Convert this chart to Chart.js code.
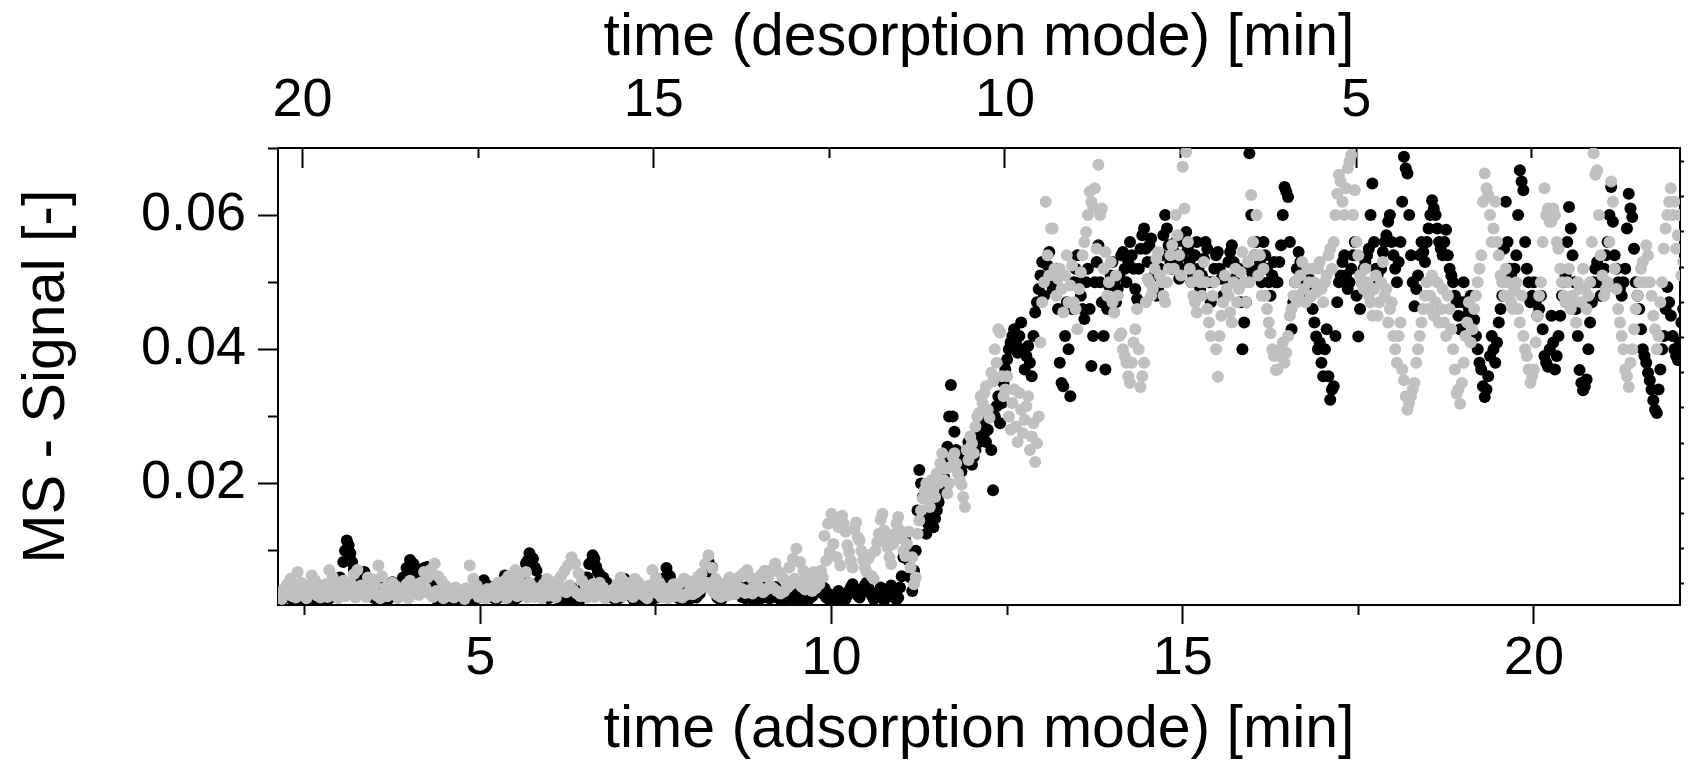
<!DOCTYPE html>
<html>
<head>
<meta charset="utf-8">
<script src="https://cdn.jsdelivr.net/npm/chart.js@4.4.0/dist/chart.umd.min.js"></script>
<style>
  html, body { margin: 0; padding: 0; background: #fff; }
  #wrap { width: 1698px; height: 766px; }
</style>
</head>
<body>
<div id="wrap"><canvas id="msChart" width="1698" height="766"></canvas></div>
<script>
// sampling times, adsorption mode [min]
const timeMin = [
  2.15,2.2,2.25,2.3,2.35,2.4,2.45,2.5,2.55,2.6,2.65,2.7,2.75,2.8,2.85,2.9,2.95,3,3.05,3.1,
  3.15,3.2,3.25,3.3,3.35,3.4,3.45,3.5,3.55,3.6,3.65,3.7,3.75,3.8,3.85,3.9,3.95,4,4.05,4.1,
  4.15,4.2,4.25,4.3,4.35,4.4,4.45,4.5,4.55,4.6,4.65,4.7,4.75,4.8,4.85,4.9,4.95,5,5.05,5.1,
  5.15,5.2,5.25,5.3,5.35,5.4,5.45,5.5,5.55,5.6,5.65,5.7,5.75,5.8,5.85,5.9,5.95,6,6.05,6.1,
  6.15,6.2,6.25,6.3,6.35,6.4,6.45,6.5,6.55,6.6,6.65,6.7,6.75,6.8,6.85,6.9,6.95,7,7.05,7.1,
  7.15,7.2,7.25,7.3,7.35,7.4,7.45,7.5,7.55,7.6,7.65,7.7,7.75,7.8,7.85,7.9,7.95,8,8.05,8.1,
  8.15,8.2,8.25,8.3,8.35,8.4,8.45,8.5,8.55,8.6,8.65,8.7,8.75,8.8,8.85,8.9,8.95,9,9.05,9.1,
  9.15,9.2,9.25,9.3,9.35,9.4,9.45,9.5,9.55,9.6,9.65,9.7,9.75,9.8,9.85,9.9,9.95,10,10.05,10.1,
  10.15,10.2,10.25,10.3,10.35,10.4,10.45,10.5,10.55,10.6,10.65,10.7,10.75,10.8,10.85,10.9,10.95,11,11.05,11.1,
  11.15,11.2,11.25,11.3,11.35,11.4,11.45,11.5,11.55,11.6,11.65,11.7,11.75,11.8,11.85,11.9,11.95,12,12.05,12.1,
  12.15,12.2,12.25,12.3,12.35,12.4,12.45,12.5,12.55,12.6,12.65,12.7,12.75,12.8,12.85,12.9,12.95,13,13.05,13.1,
  13.15,13.2,13.25,13.3,13.35,13.4,13.45,13.5,13.55,13.6,13.65,13.7,13.75,13.8,13.85,13.9,13.95,14,14.05,14.1,
  14.15,14.2,14.25,14.3,14.35,14.4,14.45,14.5,14.55,14.6,14.65,14.7,14.75,14.8,14.85,14.9,14.95,15,15.05,15.1,
  15.15,15.2,15.25,15.3,15.35,15.4,15.45,15.5,15.55,15.6,15.65,15.7,15.75,15.8,15.85,15.9,15.95,16,16.05,16.1,
  16.15,16.2,16.25,16.3,16.35,16.4,16.45,16.5,16.55,16.6,16.65,16.7,16.75,16.8,16.85,16.9,16.95,17,17.05,17.1,
  17.15,17.2,17.25,17.3,17.35,17.4,17.45,17.5,17.55,17.6,17.65,17.7,17.75,17.8,17.85,17.9,17.95,18,18.05,18.1,
  18.15,18.2,18.25,18.3,18.35,18.4,18.45,18.5,18.55,18.6,18.65,18.7,18.75,18.8,18.85,18.9,18.95,19,19.05,19.1,
  19.15,19.2,19.25,19.3,19.35,19.4,19.45,19.5,19.55,19.6,19.65,19.7,19.75,19.8,19.85,19.9,19.95,20,20.05,20.1,
  20.15,20.2,20.25,20.3,20.35,20.4,20.45,20.5,20.55,20.6,20.65,20.7,20.75,20.8,20.85,20.9,20.95,21,21.05,21.1,
  21.15,21.2,21.25,21.3,21.35,21.4,21.45,21.5,21.55,21.6,21.65,21.7,21.75,21.8,21.85,21.9,21.95,22,22.05,22.1
];
// in-between sampling times [min]
const timeMinMid = [
  2.175,2.225,2.275,2.325,2.375,2.425,2.475,2.525,2.575,2.625,2.675,2.725,2.775,2.825,2.875,2.925,2.975,3.025,3.075,3.125,
  3.175,3.225,3.275,3.325,3.375,3.425,3.475,3.525,3.575,3.625,3.675,3.725,3.775,3.825,3.875,3.925,3.975,4.025,4.075,4.125,
  4.175,4.225,4.275,4.325,4.375,4.425,4.475,4.525,4.575,4.625,4.675,4.725,4.775,4.825,4.875,4.925,4.975,5.025,5.075,5.125,
  5.175,5.225,5.275,5.325,5.375,5.425,5.475,5.525,5.575,5.625,5.675,5.725,5.775,5.825,5.875,5.925,5.975,6.025,6.075,6.125,
  6.175,6.225,6.275,6.325,6.375,6.425,6.475,6.525,6.575,6.625,6.675,6.725,6.775,6.825,6.875,6.925,6.975,7.025,7.075,7.125,
  7.175,7.225,7.275,7.325,7.375,7.425,7.475,7.525,7.575,7.625,7.675,7.725,7.775,7.825,7.875,7.925,7.975,8.025,8.075,8.125,
  8.175,8.225,8.275,8.325,8.375,8.425,8.475,8.525,8.575,8.625,8.675,8.725,8.775,8.825,8.875,8.925,8.975,9.025,9.075,9.125,
  9.175,9.225,9.275,9.325,9.375,9.425,9.475,9.525,9.575,9.625,9.675,9.725,9.775,9.825,9.875,9.925,9.975,10.025,10.075,10.125,
  10.175,10.225,10.275,10.325,10.375,10.425,10.475,10.525,10.575,10.625,10.675,10.725,10.775,10.825,10.875,10.925,10.975,11.025,11.075,11.125,
  11.175,11.225,11.275,11.325,11.375,11.425,11.475,11.525,11.575,11.625,11.675,11.725,11.775,11.825,11.875,11.925,11.975,12.025,12.075,12.125,
  12.175,12.225,12.275,12.325,12.375,12.425,12.475,12.525,12.575,12.625,12.675,12.725,12.775,12.825,12.875,12.925,12.975,13.025,13.075,13.125,
  13.175,13.225,13.275,13.325,13.375,13.425,13.475,13.525,13.575,13.625,13.675,13.725,13.775,13.825,13.875,13.925,13.975,14.025,14.075,14.125,
  14.175,14.225,14.275,14.325,14.375,14.425,14.475,14.525,14.575,14.625,14.675,14.725,14.775,14.825,14.875,14.925,14.975,15.025,15.075,15.125,
  15.175,15.225,15.275,15.325,15.375,15.425,15.475,15.525,15.575,15.625,15.675,15.725,15.775,15.825,15.875,15.925,15.975,16.025,16.075,16.125,
  16.175,16.225,16.275,16.325,16.375,16.425,16.475,16.525,16.575,16.625,16.675,16.725,16.775,16.825,16.875,16.925,16.975,17.025,17.075,17.125,
  17.175,17.225,17.275,17.325,17.375,17.425,17.475,17.525,17.575,17.625,17.675,17.725,17.775,17.825,17.875,17.925,17.975,18.025,18.075,18.125,
  18.175,18.225,18.275,18.325,18.375,18.425,18.475,18.525,18.575,18.625,18.675,18.725,18.775,18.825,18.875,18.925,18.975,19.025,19.075,19.125,
  19.175,19.225,19.275,19.325,19.375,19.425,19.475,19.525,19.575,19.625,19.675,19.725,19.775,19.825,19.875,19.925,19.975,20.025,20.075,20.125,
  20.175,20.225,20.275,20.325,20.375,20.425,20.475,20.525,20.575,20.625,20.675,20.725,20.775,20.825,20.875,20.925,20.975,21.025,21.075,21.125,
  21.175,21.225,21.275,21.325,21.375,21.425,21.475,21.525,21.575,21.625,21.675,21.725,21.775,21.825,21.875,21.925,21.975,22.025,22.075,22.125
];

// grey run (drawn on top)
const signalGrey = [
  0.0030,0.0042,0.0050,0.0058,0.0045,0.0068,0.0052,0.0040,0.0048,0.0063,0.0055,0.0044,0.0038,0.0050,0.0071,0.0060,0.0047,0.0042,0.0055,0.0049,
  0.0052,0.0065,0.0071,0.0048,0.0044,0.0060,0.0058,0.0050,0.0078,0.0062,0.0045,0.0040,0.0052,0.0047,0.0038,0.0044,0.0050,0.0055,0.0046,0.0042,
  0.0052,0.0068,0.0060,0.0072,0.0081,0.0062,0.0055,0.0048,0.0042,0.0038,0.0045,0.0040,0.0036,0.0044,0.0078,0.0058,0.0048,0.0040,0.0037,0.0043,
  0.0040,0.0046,0.0052,0.0048,0.0055,0.0062,0.0050,0.0071,0.0058,0.0045,0.0068,0.0052,0.0046,0.0040,0.0044,0.0050,0.0058,0.0052,0.0047,0.0055,
  0.0062,0.0070,0.0078,0.0090,0.0081,0.0066,0.0055,0.0048,0.0044,0.0050,0.0047,0.0052,0.0045,0.0040,0.0038,0.0043,0.0050,0.0060,0.0054,0.0046,
  0.0050,0.0058,0.0052,0.0046,0.0042,0.0048,0.0071,0.0060,0.0052,0.0045,0.0040,0.0044,0.0050,0.0047,0.0052,0.0058,0.0055,0.0048,0.0053,0.0061,
  0.0066,0.0080,0.0093,0.0074,0.0058,0.0050,0.0046,0.0052,0.0060,0.0055,0.0048,0.0062,0.0066,0.0071,0.0060,0.0052,0.0058,0.0064,0.0070,0.0062,
  0.0072,0.0081,0.0068,0.0060,0.0055,0.0075,0.0088,0.0103,0.0083,0.0070,0.0060,0.0066,0.0068,0.0058,0.0070,0.0122,0.0140,0.0155,0.0148,0.0135,
  0.0152,0.0128,0.0098,0.0075,0.0142,0.0115,0.0086,0.0068,0.0094,0.0058,0.0112,0.0146,0.0130,0.0105,0.0080,0.0125,0.0150,0.0118,0.0092,0.0128,
  0.0090,0.0060,0.0145,0.0178,0.0200,0.0165,0.0190,0.0215,0.0230,0.0205,0.0185,0.0225,0.0245,0.0215,0.0198,0.0165,0.0235,0.0260,0.0285,0.0305,
  0.0320,0.0345,0.0298,0.0352,0.0380,0.0425,0.0330,0.0360,0.0280,0.0340,0.0262,0.0310,0.0295,0.0330,0.0270,0.0232,0.0300,0.0470,0.0620,0.0510,
  0.0580,0.0480,0.0520,0.0455,0.0540,0.0495,0.0470,0.0430,0.0515,0.0560,0.0600,0.0620,0.0640,0.0675,0.0610,0.0545,0.0500,0.0470,0.0510,0.0420,
  0.0400,0.0380,0.0350,0.0410,0.0460,0.0344,0.0380,0.0505,0.0480,0.0520,0.0545,0.0500,0.0470,0.0520,0.0555,0.0600,0.0540,0.0672,0.0694,0.0520,
  0.0480,0.0455,0.0500,0.0530,0.0460,0.0420,0.0500,0.0359,0.0450,0.0510,0.0480,0.0440,0.0520,0.0490,0.0545,0.0470,0.0500,0.0560,0.0600,0.0540,
  0.0520,0.0460,0.0424,0.0390,0.0370,0.0400,0.0380,0.0420,0.0460,0.0500,0.0480,0.0530,0.0470,0.0500,0.0520,0.0485,0.0530,0.0470,0.0510,0.0550,
  0.0560,0.0632,0.0650,0.0600,0.0670,0.0690,0.0637,0.0540,0.0500,0.0520,0.0480,0.0450,0.0510,0.0470,0.0530,0.0490,0.0460,0.0420,0.0380,0.0440,
  0.0354,0.0310,0.0330,0.0350,0.0400,0.0440,0.0480,0.0460,0.0510,0.0470,0.0440,0.0490,0.0420,0.0460,0.0400,0.0334,0.0319,0.0380,0.0440,0.0410,
  0.0460,0.0500,0.0540,0.0662,0.0630,0.0560,0.0620,0.0540,0.0500,0.0520,0.0480,0.0460,0.0500,0.0440,0.0420,0.0390,0.0350,0.0370,0.0450,0.0500,
  0.0640,0.0610,0.0590,0.0600,0.0550,0.0500,0.0470,0.0520,0.0480,0.0440,0.0490,0.0520,0.0460,0.0500,0.0692,0.0667,0.0540,0.0480,0.0500,0.0650,
  0.0520,0.0460,0.0420,0.0370,0.0344,0.0400,0.0460,0.0500,0.0530,0.0555,0.0500,0.0450,0.0400,0.0470,0.0550,0.0600,0.0640,0.0620,0.0570,0.0510
];
const signalGreyMid = [
  0.0028,0.0035,0.0040,0.0032,0.0030,0.0038,0.0034,0.0029,0.0036,0.0041,0.0033,0.0030,0.0037,0.0031,0.0039,0.0034,0.0029,0.0036,0.0032,0.0040,
  0.0035,0.0030,0.0042,0.0036,0.0031,0.0038,0.0044,0.0033,0.0029,0.0037,0.0032,0.0040,0.0035,0.0030,0.0038,0.0033,0.0029,0.0036,0.0041,0.0034,
  0.0038,0.0044,0.0036,0.0031,0.0040,0.0034,0.0029,0.0037,0.0032,0.0030,0.0036,0.0033,0.0028,0.0035,0.0042,0.0037,0.0031,0.0034,0.0029,0.0036,
  0.0033,0.0030,0.0038,0.0035,0.0029,0.0041,0.0036,0.0032,0.0039,0.0034,0.0030,0.0037,0.0031,0.0035,0.0029,0.0038,0.0033,0.0036,0.0030,0.0040,
  0.0044,0.0038,0.0048,0.0041,0.0036,0.0032,0.0037,0.0030,0.0035,0.0031,0.0038,0.0034,0.0029,0.0033,0.0036,0.0030,0.0037,0.0032,0.0039,0.0035,
  0.0031,0.0036,0.0040,0.0033,0.0029,0.0038,0.0043,0.0036,0.0031,0.0034,0.0029,0.0037,0.0032,0.0036,0.0030,0.0034,0.0040,0.0035,0.0038,0.0042,
  0.0046,0.0052,0.0044,0.0038,0.0034,0.0031,0.0037,0.0033,0.0040,0.0035,0.0039,0.0043,0.0037,0.0041,0.0036,0.0040,0.0045,0.0038,0.0042,0.0048,
  0.0044,0.0040,0.0036,0.0039,0.0045,0.0050,0.0058,0.0054,0.0046,0.0042,0.0048,0.0040,0.0044,0.0050,0.0060,0.0085,0.0098,0.0110,0.0090,0.0078,
  0.0140,0.0108,0.0085,0.0132,0.0120,0.0100,0.0075,0.0088,0.0062,0.0100,0.0125,0.0155,0.0115,0.0090,0.0110,0.0140,0.0130,0.0100,0.0110,0.0075,
  0.0050,0.0125,0.0160,0.0190,0.0175,0.0205,0.0180,0.0200,0.0245,0.0222,0.0200,0.0240,0.0230,0.0205,0.0180,0.0250,0.0270,0.0245,0.0300,0.0330,
  0.0335,0.0310,0.0365,0.0400,0.0430,0.0360,0.0340,0.0300,0.0320,0.0285,0.0335,0.0275,0.0315,0.0250,0.0290,0.0260,0.0410,0.0500,0.0540,0.0580,
  0.0520,0.0505,0.0490,0.0510,0.0470,0.0525,0.0460,0.0490,0.0540,0.0575,0.0635,0.0612,0.0550,0.0600,0.0520,0.0480,0.0530,0.0455,0.0480,0.0424,
  0.0390,0.0360,0.0380,0.0430,0.0400,0.0360,0.0470,0.0500,0.0490,0.0535,0.0510,0.0480,0.0500,0.0540,0.0520,0.0570,0.0510,0.0610,0.0560,0.0500,
  0.0470,0.0510,0.0480,0.0500,0.0440,0.0480,0.0400,0.0420,0.0470,0.0490,0.0455,0.0500,0.0470,0.0515,0.0500,0.0530,0.0630,0.0540,0.0510,0.0480,
  0.0480,0.0440,0.0400,0.0369,0.0390,0.0410,0.0395,0.0450,0.0480,0.0470,0.0510,0.0490,0.0520,0.0480,0.0500,0.0520,0.0490,0.0500,0.0540,0.0520,
  0.0600,0.0660,0.0620,0.0640,0.0680,0.0600,0.0560,0.0510,0.0490,0.0500,0.0470,0.0490,0.0450,0.0500,0.0480,0.0440,0.0470,0.0400,0.0420,0.0370,
  0.0330,0.0320,0.0340,0.0380,0.0420,0.0460,0.0500,0.0480,0.0450,0.0500,0.0460,0.0440,0.0480,0.0430,0.0370,0.0340,0.0350,0.0420,0.0470,0.0430,
  0.0480,0.0520,0.0620,0.0640,0.0600,0.0580,0.0560,0.0510,0.0480,0.0500,0.0470,0.0490,0.0460,0.0480,0.0400,0.0370,0.0360,0.0410,0.0480,0.0560,
  0.0600,0.0590,0.0610,0.0560,0.0520,0.0480,0.0500,0.0460,0.0470,0.0500,0.0470,0.0490,0.0480,0.0560,0.0660,0.0600,0.0510,0.0490,0.0560,0.0620,
  0.0490,0.0440,0.0400,0.0360,0.0380,0.0430,0.0480,0.0520,0.0500,0.0540,0.0480,0.0430,0.0420,0.0500,0.0580,0.0620,0.0600,0.0550,0.0600,0.0530
];

// black run
const signalBlack = [
  0.0026,0.0038,0.0045,0.0047,0.0040,0.0036,0.0044,0.0041,0.0035,0.0042,0.0046,0.0039,0.0034,0.0043,0.0040,0.0045,0.0052,0.0060,0.0083,0.0115,
  0.0096,0.0072,0.0058,0.0066,0.0068,0.0055,0.0045,0.0040,0.0052,0.0044,0.0038,0.0046,0.0053,0.0051,0.0042,0.0060,0.0074,0.0086,0.0080,0.0061,
  0.0070,0.0074,0.0076,0.0060,0.0045,0.0024,0.0030,0.0038,0.0042,0.0036,0.0040,0.0033,0.0038,0.0043,0.0037,0.0041,0.0046,0.0040,0.0056,0.0048,
  0.0044,0.0038,0.0042,0.0050,0.0063,0.0058,0.0026,0.0036,0.0045,0.0060,0.0081,0.0096,0.0088,0.0070,0.0055,0.0047,0.0042,0.0050,0.0045,0.0040,
  0.0042,0.0036,0.0040,0.0045,0.0038,0.0034,0.0042,0.0060,0.0080,0.0093,0.0076,0.0064,0.0060,0.0052,0.0045,0.0040,0.0036,0.0044,0.0058,0.0050,
  0.0040,0.0036,0.0032,0.0038,0.0042,0.0037,0.0035,0.0040,0.0045,0.0058,0.0074,0.0062,0.0048,0.0040,0.0036,0.0041,0.0038,0.0044,0.0047,0.0042,
  0.0055,0.0066,0.0083,0.0075,0.0047,0.0034,0.0040,0.0048,0.0059,0.0052,0.0056,0.0045,0.0040,0.0046,0.0042,0.0038,0.0036,0.0041,0.0045,0.0040,
  0.0042,0.0046,0.0040,0.0035,0.0038,0.0044,0.0040,0.0036,0.0042,0.0038,0.0034,0.0040,0.0048,0.0056,0.0050,0.0044,0.0036,0.0030,0.0034,0.0040,
  0.0034,0.0028,0.0040,0.0050,0.0036,0.0030,0.0044,0.0052,0.0038,0.0028,0.0033,0.0045,0.0026,0.0036,0.0048,0.0030,0.0030,0.0062,0.0116,0.0085,
  0.0040,0.0100,0.0220,0.0180,0.0125,0.0150,0.0135,0.0160,0.0185,0.0210,0.0255,0.0347,0.0277,0.0232,0.0218,0.0240,0.0262,0.0228,0.0250,0.0270,
  0.0290,0.0262,0.0300,0.0190,0.0315,0.0290,0.0350,0.0385,0.0410,0.0430,0.0395,0.0440,0.0370,0.0405,0.0360,0.0455,0.0490,0.0530,0.0505,0.0545,
  0.0490,0.0520,0.0380,0.0345,0.0470,0.0330,0.0500,0.0540,0.0480,0.0445,0.0520,0.0375,0.0500,0.0555,0.0470,0.0370,0.0495,0.0530,0.0470,0.0510,
  0.0545,0.0500,0.0560,0.0520,0.0475,0.0550,0.0580,0.0530,0.0565,0.0510,0.0490,0.0540,0.0600,0.0555,0.0520,0.0560,0.0505,0.0540,0.0575,0.0530,
  0.0510,0.0560,0.0490,0.0535,0.0550,0.0470,0.0520,0.0545,0.0505,0.0480,0.0530,0.0555,0.0500,0.0520,0.0400,0.0470,0.0692,0.0510,0.0560,0.0530,
  0.0560,0.0520,0.0480,0.0530,0.0500,0.0555,0.0642,0.0627,0.0430,0.0500,0.0545,0.0520,0.0480,0.0505,0.0460,0.0419,0.0410,0.0360,0.0430,0.0325,
  0.0345,0.0470,0.0510,0.0540,0.0490,0.0520,0.0560,0.0419,0.0500,0.0530,0.0550,0.0647,0.0520,0.0500,0.0545,0.0570,0.0600,0.0540,0.0500,0.0560,
  0.0687,0.0662,0.0540,0.0464,0.0510,0.0560,0.0530,0.0580,0.0622,0.0600,0.0560,0.0540,0.0578,0.0520,0.0500,0.0470,0.0430,0.0500,0.0450,0.0480,
  0.0444,0.0400,0.0370,0.0329,0.0360,0.0420,0.0380,0.0440,0.0480,0.0620,0.0520,0.0500,0.0540,0.0667,0.0637,0.0520,0.0470,0.0500,0.0450,0.0480,
  0.0390,0.0374,0.0450,0.0370,0.0420,0.0480,0.0510,0.0612,0.0540,0.0460,0.0369,0.0339,0.0355,0.0440,0.0500,0.0530,0.0480,0.0520,0.0560,0.0642,
  0.0540,0.0500,0.0480,0.0520,0.0632,0.0597,0.0500,0.0460,0.0400,0.0380,0.0354,0.0324,0.0305,0.0370,0.0420,0.0493,0.0450,0.0400,0.0384,0.0440
];
const signalBlackMid = [
  0.0025,0.0030,0.0034,0.0028,0.0026,0.0031,0.0027,0.0029,0.0033,0.0026,0.0030,0.0028,0.0032,0.0027,0.0030,0.0034,0.0040,0.0055,0.0100,0.0108,
  0.0083,0.0064,0.0050,0.0056,0.0045,0.0035,0.0030,0.0027,0.0033,0.0029,0.0026,0.0031,0.0036,0.0030,0.0034,0.0050,0.0070,0.0080,0.0068,0.0055,
  0.0062,0.0066,0.0058,0.0042,0.0030,0.0024,0.0028,0.0031,0.0027,0.0030,0.0026,0.0029,0.0032,0.0028,0.0030,0.0027,0.0031,0.0035,0.0042,0.0033,
  0.0030,0.0027,0.0031,0.0040,0.0048,0.0032,0.0025,0.0030,0.0038,0.0060,0.0085,0.0090,0.0075,0.0052,0.0040,0.0033,0.0029,0.0034,0.0030,0.0027,
  0.0029,0.0026,0.0030,0.0028,0.0025,0.0027,0.0038,0.0060,0.0082,0.0088,0.0068,0.0052,0.0045,0.0036,0.0030,0.0027,0.0029,0.0036,0.0044,0.0034,
  0.0028,0.0025,0.0027,0.0030,0.0028,0.0026,0.0029,0.0031,0.0040,0.0056,0.0064,0.0046,0.0034,0.0029,0.0027,0.0030,0.0028,0.0032,0.0030,0.0036,
  0.0050,0.0068,0.0074,0.0050,0.0030,0.0026,0.0032,0.0040,0.0046,0.0044,0.0038,0.0031,0.0029,0.0032,0.0028,0.0026,0.0028,0.0031,0.0030,0.0029,
  0.0032,0.0030,0.0027,0.0026,0.0029,0.0031,0.0027,0.0028,0.0030,0.0026,0.0027,0.0032,0.0040,0.0042,0.0036,0.0030,0.0026,0.0025,0.0028,0.0027,
  0.0031,0.0034,0.0045,0.0043,0.0033,0.0037,0.0048,0.0045,0.0033,0.0030,0.0039,0.0036,0.0031,0.0042,0.0040,0.0027,0.0045,0.0090,0.0100,0.0060,
  0.0070,0.0160,0.0200,0.0150,0.0140,0.0142,0.0148,0.0172,0.0198,0.0240,0.0300,0.0300,0.0250,0.0225,0.0230,0.0250,0.0245,0.0240,0.0260,0.0280,
  0.0275,0.0280,0.0250,0.0300,0.0330,0.0320,0.0370,0.0400,0.0420,0.0410,0.0420,0.0400,0.0390,0.0380,0.0420,0.0470,0.0510,0.0480,0.0525,0.0500,
  0.0510,0.0460,0.0350,0.0420,0.0400,0.0460,0.0520,0.0500,0.0460,0.0500,0.0460,0.0420,0.0530,0.0500,0.0420,0.0460,0.0510,0.0500,0.0490,0.0540,
  0.0520,0.0530,0.0540,0.0490,0.0520,0.0570,0.0550,0.0555,0.0530,0.0480,0.0520,0.0570,0.0580,0.0530,0.0545,0.0530,0.0520,0.0560,0.0550,0.0500,
  0.0540,0.0520,0.0510,0.0560,0.0500,0.0500,0.0540,0.0520,0.0480,0.0505,0.0545,0.0530,0.0510,0.0470,0.0440,0.0520,0.0600,0.0540,0.0520,0.0500,
  0.0540,0.0500,0.0510,0.0500,0.0530,0.0600,0.0635,0.0560,0.0470,0.0520,0.0530,0.0500,0.0490,0.0480,0.0440,0.0400,0.0380,0.0400,0.0360,0.0340,
  0.0420,0.0500,0.0530,0.0510,0.0500,0.0540,0.0480,0.0460,0.0520,0.0540,0.0600,0.0560,0.0510,0.0520,0.0560,0.0590,0.0560,0.0520,0.0530,0.0620,
  0.0670,0.0600,0.0500,0.0490,0.0540,0.0545,0.0560,0.0600,0.0610,0.0580,0.0550,0.0560,0.0540,0.0510,0.0480,0.0450,0.0470,0.0470,0.0460,0.0460,
  0.0420,0.0380,0.0345,0.0340,0.0390,0.0400,0.0410,0.0460,0.0550,0.0560,0.0510,0.0520,0.0600,0.0650,0.0560,0.0500,0.0480,0.0470,0.0460,0.0430,
  0.0380,0.0400,0.0410,0.0390,0.0450,0.0500,0.0560,0.0580,0.0500,0.0420,0.0350,0.0345,0.0400,0.0470,0.0520,0.0500,0.0500,0.0540,0.0600,0.0590,
  0.0520,0.0490,0.0500,0.0580,0.0610,0.0550,0.0480,0.0430,0.0390,0.0365,0.0340,0.0310,0.0340,0.0400,0.0460,0.0470,0.0420,0.0390,0.0410,0.0460
];

// tick values
const adsorptionTicks = [5, 10, 15, 20];
const adsorptionMinor = [2.5, 7.5, 12.5, 17.5];
const desorptionTicks = [5, 10, 15, 20];
const desorptionMinor = [2.5, 7.5, 12.5, 17.5];
const signalTicks = [0.02, 0.04, 0.06];
const signalMinor = [0.01, 0.03, 0.05, 0.07];
const rightTicks = [0, 1, 2, 3, 4, 5, 6, 7, 8, 9, 10, 11, 12];

// axis ranges
const tMin = 2.12, tMax = 22.08;
const desorptionShift = 22.47; // desorption time = shift - adsorption time
const sMin = 0.0019, sMax = 0.07;

const FONT = "'Liberation Sans', Arial, Helvetica, sans-serif";
const black = "#000000";

function pts(times, ys) {
  return times.map((t, i) => ({ x: t, y: ys[i] }));
}
function setTicks(list) {
  return scale => { scale.ticks = list.map(v => ({ value: v })); };
}
function setSize(px) {
  return scale => {
    if (scale.isHorizontal()) scale.height = px;
    else scale.width = px;
  };
}
function border() {
  return { display: true, color: black, width: 2 };
}
function grid(len) {
  return { drawOnChartArea: false, drawTicks: true, tickLength: len, tickColor: black, tickWidth: 2 };
}

const greyPoints = pts(timeMin, signalGrey).concat(pts(timeMinMid, signalGreyMid));
const blackPoints = pts(timeMin, signalBlack).concat(pts(timeMinMid, signalBlackMid));

const ctx = document.getElementById("msChart").getContext("2d");
const chart = new Chart(ctx, {
  type: "scatter",
  data: {
    datasets: [
      { label: "grey", data: greyPoints, backgroundColor: "#c0c0c0", pointRadius: 6, borderWidth: 0, pointHoverRadius: 6 },
      { label: "black", data: blackPoints, backgroundColor: black, pointRadius: 6, borderWidth: 0, pointHoverRadius: 6 }
    ]
  },
  options: {
    responsive: false,
    animation: false,
    devicePixelRatio: 1,
    layout: { padding: 0 },
    plugins: { legend: { display: false }, tooltip: { enabled: false } },
    scales: {
      x: {
        type: "linear", position: "bottom", min: tMin, max: tMax, weight: 1,
        border: border(), grid: grid(19),
        ticks: { color: black, font: { family: FONT, size: 54 }, padding: 3, maxRotation: 0 },
        title: { display: true, text: "time (adsorption mode) [min]", color: black, font: { family: FONT, size: 59 }, padding: 0 },
        afterBuildTicks: setTicks(adsorptionTicks), afterFit: setSize(161)
      },
      xMinor: {
        type: "linear", position: "bottom", min: tMin, max: tMax, weight: 0,
        border: border(), grid: grid(10), ticks: { display: false },
        afterBuildTicks: setTicks(adsorptionMinor), afterFit: setSize(0)
      },
      top: {
        type: "linear", position: "top", reverse: true, weight: 1,
        min: desorptionShift - tMax, max: desorptionShift - tMin,
        border: border(), grid: grid(-20),
        ticks: { color: black, font: { family: FONT, size: 54 }, padding: 34, maxRotation: 0 },
        title: { display: true, text: "time (desorption mode) [min]", color: black, font: { family: FONT, size: 59 }, padding: { top: 3, bottom: 0 } },
        afterBuildTicks: setTicks(desorptionTicks), afterFit: setSize(148)
      },
      topMinor: {
        type: "linear", position: "top", reverse: true, weight: 0,
        min: desorptionShift - tMax, max: desorptionShift - tMin,
        border: border(), grid: grid(-10), ticks: { display: false },
        afterBuildTicks: setTicks(desorptionMinor), afterFit: setSize(0)
      },
      y: {
        type: "linear", position: "left", min: sMin, max: sMax, weight: 1,
        border: border(), grid: grid(20),
        ticks: { color: black, font: { family: FONT, size: 54 }, padding: 12 },
        title: { display: true, text: "MS - Signal [-]", color: black, font: { family: FONT, size: 59 }, padding: { top: 12, bottom: 0 } },
        afterBuildTicks: setTicks(signalTicks), afterFit: setSize(278)
      },
      yMinor: {
        type: "linear", position: "left", min: sMin, max: sMax, weight: 0,
        border: border(), grid: grid(10), ticks: { display: false },
        afterBuildTicks: setTicks(signalMinor), afterFit: setSize(0)
      },
      yRight: {
        type: "linear", position: "right", min: -0.6, max: 12.38,
        border: border(), grid: grid(4), ticks: { display: false },
        afterBuildTicks: setTicks(rightTicks), afterFit: setSize(18)
      }
    }
  }
});
</script>
</body>
</html>
